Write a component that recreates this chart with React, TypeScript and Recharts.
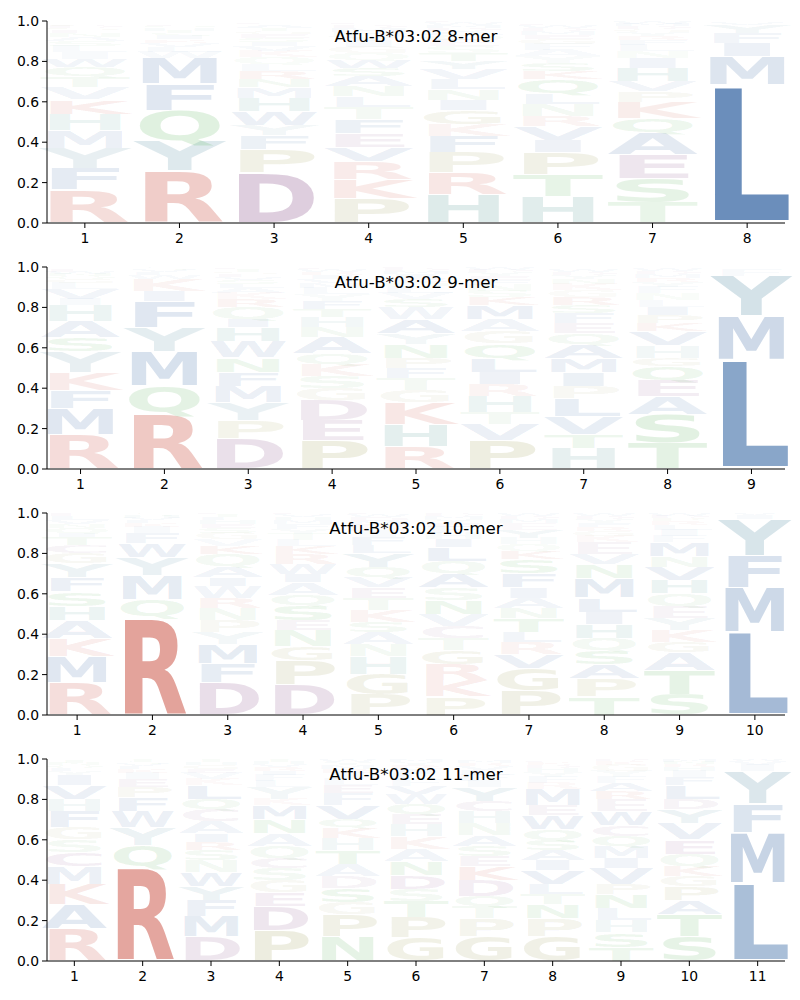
import React from "react";
import { Bar, BarChart, XAxis, YAxis } from "recharts";

// letters per position, bottom to top, with their stack heights
const mer8Letters = [
  "RFYMHKVTQWILSANEGDPC",
  "RYQFMWLVKISTHANEGDPC",
  "DPFYWHMNRLQKVISEGTAC",
  "PKRVEFTLNASWQGIYHMDC",
  "HRPFKGINLVYTSEQADMWC",
  "HTPIVRNLQKSYAFGEMDWC",
  "TSEAQKPVHINLFRYGDMWC",
  "LMIFYVWA"
];
const mer8Heights = [
  [0.165, 0.105, 0.1, 0.09, 0.08, 0.07, 0.06, 0.055, 0.045, 0.04, 0.035, 0.03, 0.025, 0.02, 0.018, 0.015, 0.012, 0.01, 0.008, 0.007],
  [0.258, 0.15, 0.15, 0.13, 0.13, 0.03, 0.025, 0.02, 0.015, 0.017, 0.015, 0.012, 0.01, 0.008, 0.007, 0.006, 0.005, 0.004, 0.004, 0.003],
  [0.25, 0.115, 0.07, 0.05, 0.07, 0.065, 0.05, 0.04, 0.04, 0.035, 0.035, 0.03, 0.025, 0.02, 0.02, 0.02, 0.015, 0.015, 0.015, 0.01],
  [0.12, 0.095, 0.09, 0.07, 0.07, 0.07, 0.06, 0.05, 0.05, 0.05, 0.04, 0.04, 0.035, 0.03, 0.03, 0.025, 0.02, 0.02, 0.015, 0.01],
  [0.14, 0.11, 0.1, 0.08, 0.06, 0.07, 0.05, 0.05, 0.05, 0.05, 0.04, 0.04, 0.035, 0.03, 0.025, 0.02, 0.015, 0.015, 0.01, 0.01],
  [0.13, 0.11, 0.11, 0.06, 0.07, 0.05, 0.06, 0.05, 0.07, 0.04, 0.04, 0.035, 0.03, 0.03, 0.025, 0.02, 0.02, 0.015, 0.01, 0.01],
  [0.1, 0.12, 0.12, 0.11, 0.07, 0.08, 0.05, 0.05, 0.065, 0.05, 0.035, 0.03, 0.025, 0.02, 0.02, 0.015, 0.015, 0.01, 0.01, 0.005],
  [0.685, 0.14, 0.065, 0.05, 0.04, 0.01, 0.005, 0.005]
];

const mer9Letters = [
  "RMFKYSAHIVLGQNWEDPC",
  "RQMYFIKWLVST",
  "DPYMFNWHIQRKALSVEGTC",
  "PEDGSKQANHTFYLMVIRWC",
  "RHKGTFPNYAWSVLQEIMDC",
  "PVTHRILQGAMKSNFEYDWC",
  "HTVLPIMAQEFSRGKNYDWC",
  "TSAEQGHVKPILNFYRMDWC",
  "LMYFIV"
];
const mer9Heights = [
  [0.17, 0.13, 0.09, 0.09, 0.1, 0.07, 0.08, 0.08, 0.03, 0.05, 0.03, 0.02, 0.015, 0.01, 0.01, 0.01, 0.005, 0.005, 0.005],
  [0.28, 0.13, 0.17, 0.12, 0.13, 0.05, 0.06, 0.02, 0.015, 0.01, 0.01, 0.005],
  [0.15, 0.09, 0.09, 0.08, 0.07, 0.07, 0.08, 0.07, 0.04, 0.06, 0.04, 0.03, 0.025, 0.02, 0.02, 0.015, 0.015, 0.01, 0.01, 0.01],
  [0.14, 0.1, 0.1, 0.06, 0.06, 0.06, 0.05, 0.08, 0.05, 0.05, 0.04, 0.04, 0.035, 0.03, 0.025, 0.02, 0.02, 0.015, 0.01, 0.01],
  [0.11, 0.11, 0.11, 0.06, 0.06, 0.05, 0.05, 0.07, 0.05, 0.07, 0.06, 0.04, 0.03, 0.03, 0.025, 0.02, 0.02, 0.015, 0.01, 0.01],
  [0.14, 0.08, 0.06, 0.08, 0.06, 0.06, 0.07, 0.07, 0.06, 0.06, 0.07, 0.04, 0.03, 0.03, 0.025, 0.02, 0.02, 0.01, 0.01, 0.005],
  [0.1, 0.07, 0.09, 0.09, 0.06, 0.07, 0.07, 0.07, 0.05, 0.05, 0.05, 0.04, 0.04, 0.035, 0.03, 0.025, 0.02, 0.015, 0.01, 0.005],
  [0.13, 0.14, 0.09, 0.08, 0.07, 0.04, 0.06, 0.07, 0.04, 0.04, 0.04, 0.035, 0.035, 0.03, 0.025, 0.02, 0.02, 0.015, 0.01, 0.005],
  [0.54, 0.215, 0.2, 0.035, 0.005, 0.005]
];

const mer10Letters = [
  "RMKAHSFYGCTIQNVLEDPW",
  "RQMYWFIKLVHST",
  "DFMYPNRWIAQKVGSEHLTC",
  "DPGNESQAIWRKLTYFMHVC",
  "PGHNASKTEVQYLFIRMDWC",
  "PKRGTCVNSAQLIHFEYMDW",
  "PGVRLTNAIFSKQHYEMDWC",
  "TPASQHILMNVEKGRFYDWC",
  "STAGKYEQHVNMFILRPDWC",
  "LMFYIV"
];
const mer10Heights = [
  [0.16, 0.13, 0.09, 0.09, 0.07, 0.07, 0.07, 0.07, 0.05, 0.04, 0.04, 0.02, 0.025, 0.02, 0.02, 0.02, 0.015, 0.01, 0.01, 0.005],
  [0.49, 0.08, 0.12, 0.09, 0.07, 0.05, 0.03, 0.02, 0.015, 0.01, 0.01, 0.01, 0.005],
  [0.16, 0.095, 0.095, 0.06, 0.06, 0.06, 0.05, 0.06, 0.04, 0.055, 0.06, 0.04, 0.035, 0.03, 0.025, 0.02, 0.02, 0.015, 0.01, 0.01],
  [0.15, 0.12, 0.07, 0.08, 0.05, 0.075, 0.05, 0.06, 0.04, 0.05, 0.05, 0.04, 0.03, 0.03, 0.025, 0.025, 0.02, 0.015, 0.01, 0.01],
  [0.1, 0.1, 0.09, 0.06, 0.06, 0.05, 0.06, 0.06, 0.05, 0.05, 0.05, 0.07, 0.04, 0.04, 0.03, 0.03, 0.02, 0.02, 0.01, 0.01],
  [0.09, 0.08, 0.08, 0.07, 0.06, 0.06, 0.06, 0.07, 0.06, 0.07, 0.06, 0.07, 0.04, 0.03, 0.03, 0.02, 0.02, 0.015, 0.01, 0.005],
  [0.12, 0.11, 0.07, 0.06, 0.05, 0.07, 0.05, 0.05, 0.05, 0.07, 0.07, 0.04, 0.035, 0.03, 0.04, 0.035, 0.02, 0.015, 0.01, 0.005],
  [0.09, 0.09, 0.07, 0.07, 0.06, 0.07, 0.06, 0.07, 0.095, 0.07, 0.05, 0.06, 0.03, 0.025, 0.02, 0.02, 0.02, 0.015, 0.01, 0.005],
  [0.1, 0.12, 0.09, 0.05, 0.06, 0.06, 0.06, 0.06, 0.065, 0.065, 0.055, 0.07, 0.03, 0.03, 0.025, 0.02, 0.015, 0.01, 0.01, 0.005],
  [0.41, 0.22, 0.16, 0.18, 0.02, 0.01]
];

const mer11Letters = [
  "RAKMCSGFHVIYLQNTED",
  "RQYWFPEIKLVSTM",
  "DMFYWNSRIACQLKVEGHTP",
  "PDEGSCQANMKYLFIRVHTW",
  "NPGSDATHKQVFELIRMYWC",
  "GPTSDNAKHEQWVFLIRYMC",
  "GPTQDKESANHCYIFLVRMW",
  "GPNTLVIASQWEMRFYHDKC",
  "TSHLNPVIMQCWERAFYGKD",
  "STAPGKQEVYDLFIHRNMW",
  "LMFYIVW"
];
const mer11Heights = [
  [0.16, 0.12, 0.1, 0.09, 0.07, 0.06, 0.06, 0.08, 0.06, 0.07, 0.05, 0.02, 0.015, 0.015, 0.01, 0.01, 0.005, 0.005],
  [0.47, 0.1, 0.09, 0.08, 0.07, 0.05, 0.04, 0.03, 0.02, 0.015, 0.01, 0.01, 0.01, 0.005],
  [0.12, 0.1, 0.08, 0.07, 0.07, 0.06, 0.05, 0.04, 0.04, 0.06, 0.06, 0.05, 0.07, 0.03, 0.03, 0.02, 0.02, 0.015, 0.01, 0.005],
  [0.15, 0.12, 0.07, 0.06, 0.06, 0.05, 0.06, 0.06, 0.07, 0.07, 0.03, 0.06, 0.03, 0.03, 0.02, 0.02, 0.015, 0.01, 0.01, 0.005],
  [0.12, 0.11, 0.06, 0.07, 0.06, 0.06, 0.07, 0.06, 0.05, 0.04, 0.07, 0.06, 0.04, 0.03, 0.03, 0.02, 0.02, 0.015, 0.01, 0.005],
  [0.115, 0.1, 0.08, 0.06, 0.07, 0.07, 0.06, 0.06, 0.06, 0.05, 0.05, 0.05, 0.04, 0.03, 0.03, 0.025, 0.02, 0.015, 0.01, 0.005],
  [0.12, 0.09, 0.06, 0.05, 0.08, 0.07, 0.05, 0.05, 0.05, 0.06, 0.06, 0.05, 0.07, 0.03, 0.03, 0.025, 0.02, 0.015, 0.01, 0.005],
  [0.12, 0.09, 0.07, 0.05, 0.05, 0.07, 0.05, 0.05, 0.05, 0.05, 0.07, 0.05, 0.08, 0.03, 0.03, 0.025, 0.02, 0.015, 0.01, 0.01],
  [0.07, 0.07, 0.06, 0.06, 0.07, 0.05, 0.08, 0.05, 0.06, 0.05, 0.05, 0.07, 0.06, 0.04, 0.04, 0.03, 0.03, 0.03, 0.02, 0.01],
  [0.12, 0.11, 0.07, 0.07, 0.05, 0.05, 0.06, 0.07, 0.08, 0.07, 0.05, 0.07, 0.04, 0.03, 0.02, 0.015, 0.01, 0.01, 0.005],
  [0.385, 0.25, 0.145, 0.16, 0.03, 0.02, 0.01]
];

const PANELS = [
  { title: "Atfu-B*03:02 8-mer", letters: mer8Letters, heights: mer8Heights },
  { title: "Atfu-B*03:02 9-mer", letters: mer9Letters, heights: mer9Heights },
  { title: "Atfu-B*03:02 10-mer", letters: mer10Letters, heights: mer10Heights },
  { title: "Atfu-B*03:02 11-mer", letters: mer11Letters, heights: mer11Heights }
];

const Y_TICKS = [0, 0.2, 0.4, 0.6, 0.8, 1.0];

const BLUE = "#3767a3";
const SLATE = "#44809a";
const TEAL = "#3d8a84";
const RED = "#cb5244";
const GREEN = "#52ae52";
const OLIVE = "#9a9a50";
const PURPLE = "#8a528a";

const LETTER_COLORS: Record<string, string> = {
  A: BLUE, V: BLUE, L: BLUE, I: BLUE, M: BLUE, F: BLUE, W: BLUE,
  Y: SLATE, H: TEAL,
  R: RED, K: RED,
  Q: GREEN, N: GREEN, S: GREEN, T: GREEN,
  P: OLIVE, G: OLIVE,
  D: PURPLE, E: PURPLE, C: PURPLE
};

const FONT = '"DejaVu Sans", sans-serif';
const CAP = 0.729; // cap height of DejaVu Sans Bold, in em
const INK = 0.84; // share of the advance width covered by ink

function Glyph(props: any) {
  const { x, y, width, height, ch, value } = props;
  if (!ch || !(height > 0.2) || !(width > 0)) return null;
  const h = Array.isArray(value) ? value[1] - value[0] : value;
  const pad = height * 0.025;
  const fs = 100;
  const sy = (height - 2 * pad) / (CAP * fs);
  const len = width / INK;
  const x0 = x - (len - width) / 2;
  const base = y + height - pad;
  return (
    <text
      x={0}
      y={0}
      transform={`translate(${x0},${base}) scale(1,${sy})`}
      fontSize={fs}
      fontFamily={FONT}
      fontWeight="bold"
      textLength={len}
      lengthAdjust="spacingAndGlyphs"
      fill={LETTER_COLORS[ch] || "#888"}
      fillOpacity={Math.min(1, 0.02 + 1.05 * (h || 0))}
    >
      {ch}
    </text>
  );
}

function LogoPanel({ title, letters, heights }: { title: string; letters: string[]; heights: number[][] }) {
  const n = letters.length;
  const slots = Math.max(...letters.map((l) => l.length));
  const rows = letters.map((ls, i) => {
    const row: Record<string, number | string> = { pos: i + 1 };
    heights[i].forEach((h, k) => {
      row[`s${k}`] = h;
      row[`c${k}`] = ls[k];
    });
    return row;
  });
  const ticks = Array.from({ length: n }, (_, i) => i + 1);

  return (
    <div style={{ position: "relative", width: 800, height: 246 }}>
      <BarChart
        width={800}
        height={246}
        data={rows}
        margin={{ top: 21, right: 15, bottom: 0, left: 0 }}
        barCategoryGap="10%"
      >
        <XAxis
          type="number"
          dataKey="pos"
          domain={[0.6, n + 0.4]}
          ticks={ticks}
          interval={0}
          height={23}
          tickSize={5}
          tickMargin={5}
          stroke="#000"
          tick={{ fill: "#000", fontSize: 13.9, fontFamily: FONT }}
        />
        <YAxis
          domain={[0, 1]}
          ticks={Y_TICKS}
          allowDataOverflow
          width={47}
          tickSize={5}
          tickMargin={3}
          stroke="#000"
          tickFormatter={(v: number) => v.toFixed(1)}
          tick={{ fill: "#000", fontSize: 13.9, fontFamily: FONT }}
        />
        {Array.from({ length: slots }, (_, k) => (
          <Bar
            key={k}
            dataKey={`s${k}`}
            stackId="logo"
            isAnimationActive={false}
            shape={(p: any) => <Glyph {...p} ch={p.payload[`c${k}`]} />}
          />
        ))}
      </BarChart>
      <div
        style={{
          position: "absolute",
          left: 47,
          width: 738,
          top: 26,
          textAlign: "center",
          fontFamily: FONT,
          fontSize: 16.7,
          color: "#000",
          pointerEvents: "none"
        }}
      >
        {title}
      </div>
    </div>
  );
}

export default function App() {
  return (
    <div style={{ position: "absolute", left: 0, top: 0, width: 800, height: 1000, background: "#fff" }}>
      {PANELS.map((p) => (
        <LogoPanel key={p.title} title={p.title} letters={p.letters} heights={p.heights} />
      ))}
    </div>
  );
}
